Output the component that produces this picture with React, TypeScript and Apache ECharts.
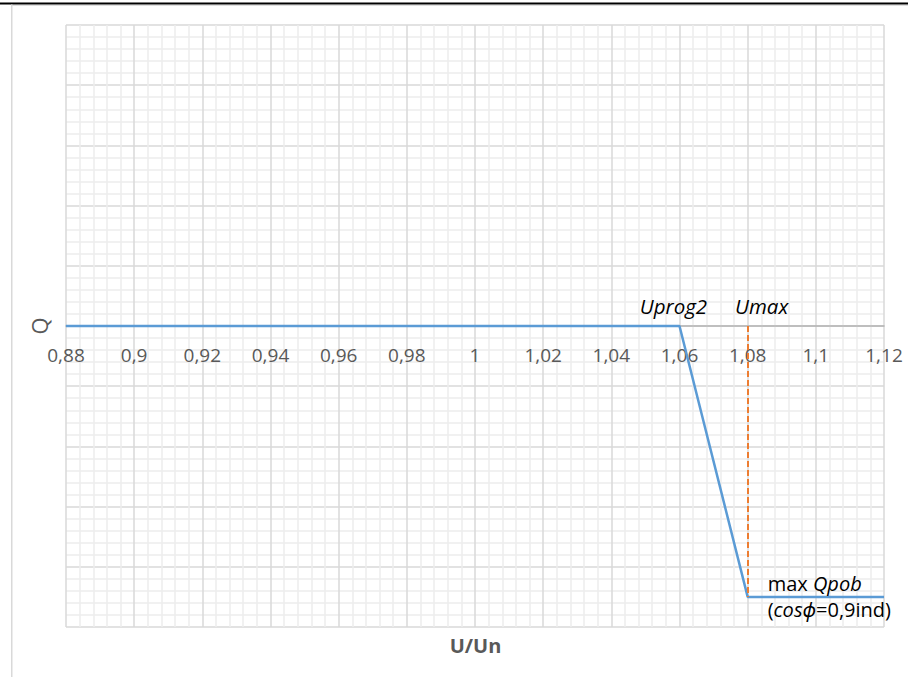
import React, { useEffect, useRef } from "react";
import * as echarts from "echarts";

// Data
const uValues = [0.88, 1.06, 1.08, 1.12];
const qValues = [0, 0, -4.5, -4.5];
const uProg2 = 1.06;
const uMax = 1.08;
const qPobMax = -4.5;
const xMin = 0.88;
const xMax = 1.12;
const xStep = 0.02;
const yMin = -5;
const yMax = 5;
const yStep = 1;

const FONT = "'Open Sans', 'Noto Sans', sans-serif";
const GRID = { left: 66, right: 24, top: 25, bottom: 50 };
const PLOT_H = 677 - GRID.top - GRID.bottom;

export default function App() {
  const ref = useRef<HTMLDivElement>(null);
  useEffect(() => {
    if (!ref.current) return;
    const chart = echarts.init(ref.current, null, { renderer: "svg" });
    const points = uValues.map((u, i) => [u, qValues[i]]);
    // x axis crosses the y axis at Q = 0
    const zeroOffset = -PLOT_H * ((0 - yMin) / (yMax - yMin));
    chart.setOption({
      animation: false,
      backgroundColor: "#ffffff",
      textStyle: { fontFamily: FONT },
      grid: { ...GRID, containLabel: false },
      xAxis: {
        type: "value",
        min: xMin,
        max: xMax,
        interval: xStep,
        position: "bottom",
        offset: zeroOffset,
        axisLine: { onZero: false, lineStyle: { color: "#b3b3b3", width: 1.5 } },
        axisTick: { show: false },
        axisLabel: {
          margin: 19,
          color: "#595959",
          fontSize: 19,
          fontFamily: FONT,
          formatter: (v: number) => String(+v.toFixed(2)).replace(".", ","),
        },
        splitLine: { show: true, lineStyle: { color: "#d9d9d9", width: 1.5 } },
        minorTick: { show: false, splitNumber: 5 },
        minorSplitLine: { show: true, lineStyle: { color: "#ececec", width: 1.5 } },
      },
      yAxis: {
        type: "value",
        min: yMin,
        max: yMax,
        interval: yStep,
        name: "Q",
        nameLocation: "middle",
        nameGap: 16,
        nameTextStyle: { color: "#595959", fontSize: 22, fontFamily: FONT },
        axisLine: { show: false },
        axisTick: { show: false },
        axisLabel: { show: false },
        splitLine: { show: true, lineStyle: { color: "#d9d9d9", width: 1.5 } },
        minorTick: { show: false, splitNumber: 5 },
        minorSplitLine: { show: true, lineStyle: { color: "#ececec", width: 1.5 } },
      },
      series: [
        {
          type: "line",
          data: points,
          showSymbol: false,
          symbol: "none",
          lineStyle: { color: "#5B9BD5", width: 2.5 },
          z: 3,
          markLine: {
            silent: true,
            symbol: "none",
            label: { show: false },
            lineStyle: { color: "#ED7D31", width: 2, type: [6, 3] },
            data: [[{ coord: [uMax, 0] }, { coord: [uMax, qPobMax] }]],
          },
          markPoint: {
            symbol: "circle",
            symbolSize: 0,
            silent: true,
            data: [
              {
                coord: [uProg2, 0],
                label: {
                  show: true,
                  position: "inside",
                  offset: [-6, -20],
                  formatter: "Uprog2",
                  color: "#000",
                  fontSize: 20.5,
                  fontStyle: "italic",
                  fontFamily: FONT,
                },
              },
              {
                coord: [uMax, 0],
                label: {
                  show: true,
                  position: "inside",
                  offset: [14, -20],
                  formatter: "Umax",
                  color: "#000",
                  fontSize: 20.5,
                  fontStyle: "italic",
                  fontFamily: FONT,
                },
              },
              {
                coord: [uMax, qPobMax],
                label: {
                  show: true,
                  position: "right",
                  distance: 20,
                  formatter: "{n|max }{i|Qpob}\n{n|(}{i|cosϕ}{n|=0,9ind)}",
                  color: "#000",
                  lineHeight: 26,
                  rich: {
                    n: { fontSize: 20, color: "#000", fontFamily: FONT, lineHeight: 26 },
                    i: { fontSize: 20, color: "#000", fontStyle: "italic", fontFamily: FONT, lineHeight: 26 },
                  },
                },
              },
            ],
          },
        },
      ],
      graphic: [
        {
          type: "rect",
          shape: { x: 0, y: 2.5, width: 908, height: 2 },
          style: { fill: "#000000" },
          silent: true,
        },
        {
          type: "line",
          shape: { x1: 12, y1: 5.5, x2: 908, y2: 5.5 },
          style: { stroke: "#dedede", lineWidth: 1 },
          silent: true,
        },
        {
          type: "line",
          shape: { x1: 11.75, y1: 4.5, x2: 11.75, y2: 677 },
          style: { stroke: "#d9d9d9", lineWidth: 1.5 },
          silent: true,
        },
        {
          type: "text",
          x: 475.5,
          y: 645,
          style: {
            text: "U/Un",
            fill: "#595959",
            font: `bold 20px ${FONT}`,
            textAlign: "center",
            textVerticalAlign: "middle",
          },
          silent: true,
        },
      ],
    });
    return () => chart.dispose();
  }, []);
  return (
    <div
      ref={ref}
      style={{ position: "absolute", left: 0, top: 0, width: 908, height: 677 }}
    />
  );
}
